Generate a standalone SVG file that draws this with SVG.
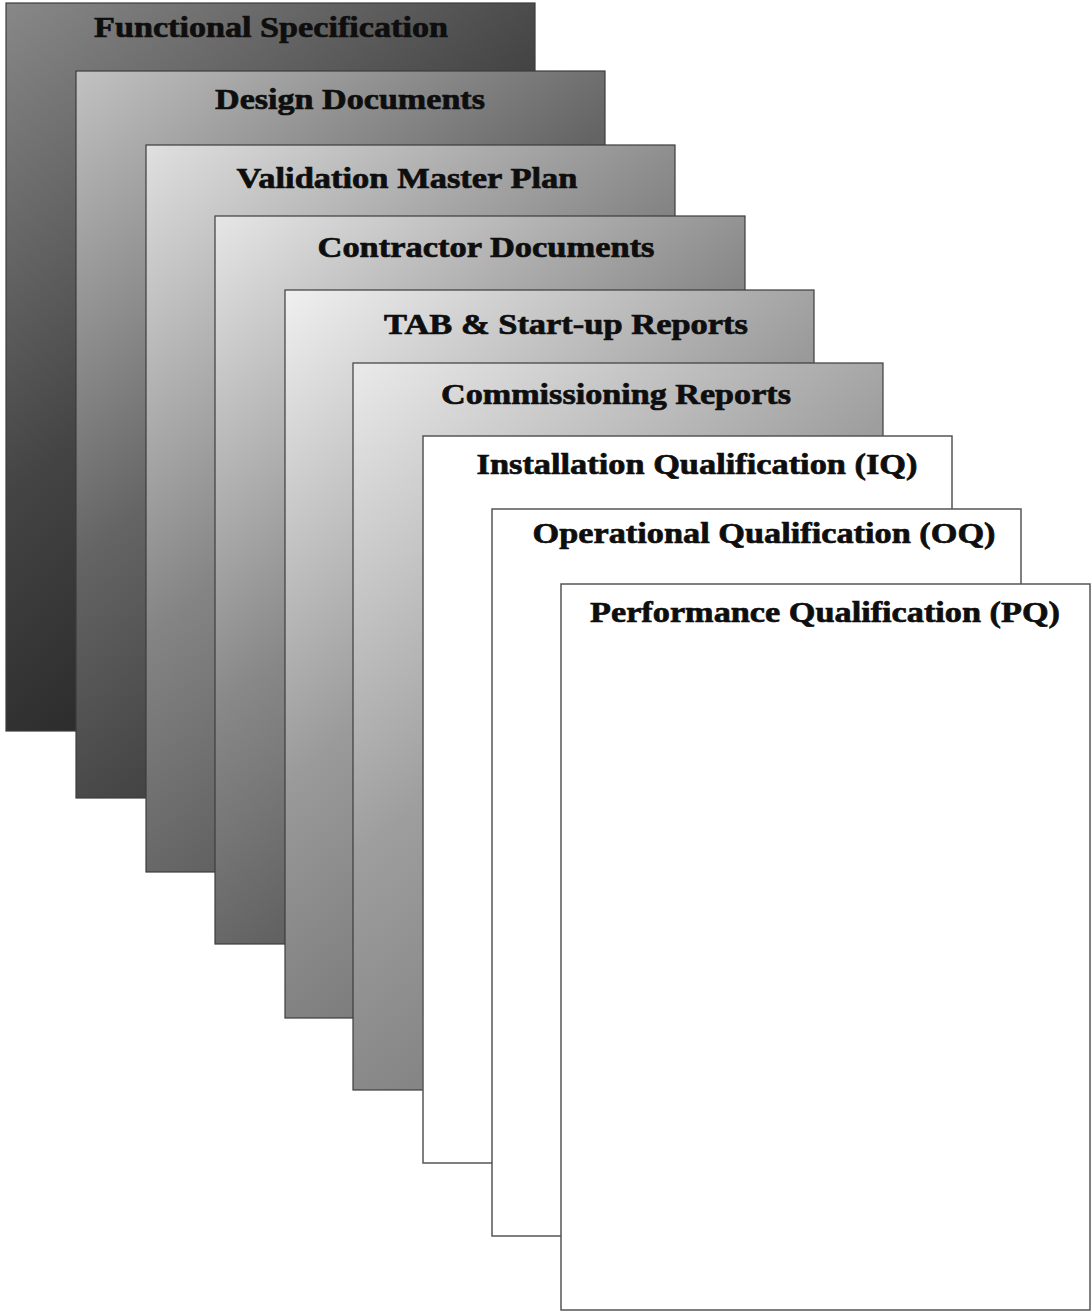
<svg xmlns="http://www.w3.org/2000/svg" width="1092" height="1312" viewBox="0 0 1092 1312">
<style>
.pg{stroke:#3c3c3c;stroke-width:1.2}
.wp{fill:#ffffff;stroke:#555555;stroke-width:1.5}
.lbl{font-family:"Liberation Serif","Times New Roman",serif;font-weight:bold;font-size:30.5px;fill:#0e0e0e;stroke:#0e0e0e;stroke-width:0.7;text-anchor:middle}
</style>
<defs>
<linearGradient id="g1" x1="0" y1="0" x2="0.6" y2="1"><stop offset="0" stop-color="#888888"/><stop offset="0.5" stop-color="#444444"/><stop offset="1" stop-color="#1c1c1c"/></linearGradient>
<linearGradient id="g2" x1="0" y1="0" x2="0.6" y2="1"><stop offset="0" stop-color="#c2c2c2"/><stop offset="0.5" stop-color="#646464"/><stop offset="1" stop-color="#2c2c2c"/></linearGradient>
<linearGradient id="g3" x1="0" y1="0" x2="0.6" y2="1"><stop offset="0" stop-color="#e0e0e0"/><stop offset="0.5" stop-color="#848484"/><stop offset="1" stop-color="#484848"/></linearGradient>
<linearGradient id="g4" x1="0" y1="0" x2="0.6" y2="1"><stop offset="0" stop-color="#e6e6e6"/><stop offset="0.5" stop-color="#888888"/><stop offset="1" stop-color="#444444"/></linearGradient>
<linearGradient id="g5" x1="0" y1="0" x2="0.6" y2="1"><stop offset="0" stop-color="#f0f0f0"/><stop offset="0.5" stop-color="#9a9a9a"/><stop offset="1" stop-color="#686868"/></linearGradient>
<linearGradient id="g6" x1="0" y1="0" x2="0.6" y2="1"><stop offset="0" stop-color="#eaeaea"/><stop offset="0.5" stop-color="#9e9e9e"/><stop offset="1" stop-color="#727272"/></linearGradient>
</defs>
<rect width="1092" height="1312" fill="#ffffff"/>
<g id="page-functional-specification">
<rect class="pg" x="6" y="3" width="529" height="728" fill="url(#g1)"/>
<text class="lbl" transform="translate(271,37) scale(1.14,1)" textLength="310.5" lengthAdjust="spacingAndGlyphs">Functional Specification</text>
</g>
<g id="page-design-documents">
<rect class="pg" x="76" y="71" width="529" height="727" fill="url(#g2)"/>
<text class="lbl" transform="translate(350,109) scale(1.14,1)" textLength="236.8" lengthAdjust="spacingAndGlyphs">Design Documents</text>
</g>
<g id="page-validation-master-plan">
<rect class="pg" x="146" y="145" width="529" height="727" fill="url(#g3)"/>
<text class="lbl" transform="translate(407,188) scale(1.14,1)" textLength="299.1" lengthAdjust="spacingAndGlyphs">Validation Master Plan</text>
</g>
<g id="page-contractor-documents">
<rect class="pg" x="215" y="216" width="530" height="728" fill="url(#g4)"/>
<text class="lbl" transform="translate(486,257) scale(1.14,1)" textLength="295.6" lengthAdjust="spacingAndGlyphs">Contractor Documents</text>
</g>
<g id="page-tab-startup-reports">
<rect class="pg" x="285" y="290" width="529" height="728" fill="url(#g5)"/>
<text class="lbl" transform="translate(566,334) scale(1.14,1)" textLength="319.3" lengthAdjust="spacingAndGlyphs">TAB &amp; Start-up Reports</text>
</g>
<g id="page-commissioning-reports">
<rect class="pg" x="353" y="363" width="530" height="727" fill="url(#g6)"/>
<text class="lbl" transform="translate(616,404) scale(1.14,1)" textLength="307" lengthAdjust="spacingAndGlyphs">Commissioning Reports</text>
</g>
<g id="page-iq">
<rect class="wp" x="423" y="436" width="529" height="727"/>
<text class="lbl" transform="translate(697,474) scale(1.14,1)" textLength="386.8" lengthAdjust="spacingAndGlyphs">Installation Qualification (IQ)</text>
</g>
<g id="page-oq">
<rect class="wp" x="492" y="509" width="529" height="727"/>
<text class="lbl" transform="translate(764,543) scale(1.14,1)" textLength="406.1" lengthAdjust="spacingAndGlyphs">Operational Qualification (OQ)</text>
</g>
<g id="page-pq">
<rect class="wp" x="561" y="584" width="529" height="726"/>
<text class="lbl" transform="translate(825,622) scale(1.14,1)" textLength="412.3" lengthAdjust="spacingAndGlyphs">Performance Qualification (PQ)</text>
</g>
<g id="connectors"></g>
</svg>
